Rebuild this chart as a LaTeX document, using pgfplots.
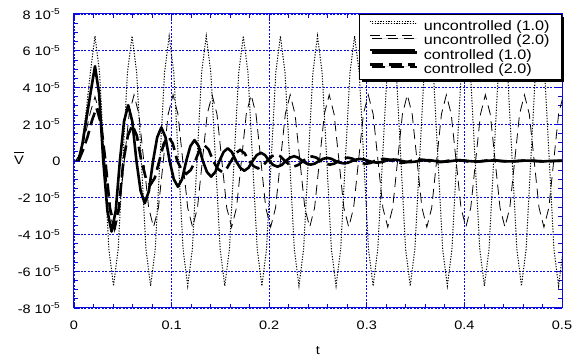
\documentclass[border=0pt]{standalone}
\usepackage{fontspec}
\setmainfont{Liberation Sans}
\usepackage{graphicx}
\usepackage{pgfplots}
\pgfplotsset{compat=1.18}
\usetikzlibrary{shadows}
\definecolor{axblue}{RGB}{10,10,225}
\newcommand{\lgf}{\fontsize{13.7}{14}\selectfont}
\newcommand{\tkf}{\fontsize{12.3}{14}\selectfont}
\newcommand{\sx}[1]{\scalebox{1.18}[1]{#1}}
\newcommand{\ytl}[1]{\sx{#1 10\textsuperscript{-5}}}
\begin{document}
\begin{tikzpicture}
\begin{axis}[
  scale only axis, width=488pt, height=294pt,
  xmin=0, xmax=0.5, ymin=-8e-5, ymax=8e-5,
  xtick={0,0.1,0.2,0.3,0.4,0.5},
  xticklabels={\sx{0},\sx{0.1},\sx{0.2},\sx{0.3},\sx{0.4},\sx{0.5}},
  ytick={-8e-5,-6e-5,-4e-5,-2e-5,0,2e-5,4e-5,6e-5,8e-5},
  yticklabels={{\ytl{-8}},{\ytl{-6}},{\ytl{-4}},{\ytl{-2}},{\sx{0}},{\ytl{2}},{\ytl{4}},{\ytl{6}},{\ytl{8}}},
  scaled ticks=false,
  minor x tick num=4, minor y tick num=3,
  tick align=inside, tick pos=both,
  major tick length=6pt, minor tick length=4pt,
  axis line style={axblue, line width=1pt},
  tick style={axblue, line width=0.8pt},
  grid=major,
  major grid style={axblue, dash pattern=on 2pt off 1.5pt, line width=0.6pt},
  ticklabel style={font=\tkf, text=black},
  xticklabel style={yshift=-9pt},
  yticklabel style={xshift=-10pt},
  xlabel={\sx{t}},
  xlabel style={at={(axis description cs:0.5,-0.146)}, anchor=center, font=\tkf},
  ylabel={$\overline{\mbox{\rule{0pt}{10.5pt}\sx{V}}}$},
  ylabel style={rotate=-90, at={(axis description cs:-0.113,0.51)}, anchor=center, font=\tkf},
  legend cell align=left,
  legend style={at={(1,1)}, anchor=north east, draw=black, line width=0.7pt, fill=white,
    drop shadow={shadow xshift=2.5pt, shadow yshift=-2.5pt, fill=black, opacity=1},
    font=\lgf, row sep=0pt, inner xsep=9pt, inner ysep=3.7pt,
    nodes={inner ysep=0.5pt, inner xsep=3pt, text height=12pt, text depth=1.4pt},
    /tikz/every odd column/.append style={column sep=5pt}},
  legend image code/.code={\draw[#1] (0pt,4pt) -- (45pt,4pt);},
]
% uncontrolled (1.0)
\addplot[black, line width=1pt, dash pattern=on 1.2pt off 1.5pt] coordinates {
(0.0025,0) (0.00725,0.6e-5) (0.012,2.5e-5) (0.01675,4.8e-5)
(0.0215,6.8e-5) (0.02625,4.8e-5) (0.031,0) (0.03575,-4.8e-5) (0.0405,-6.8e-5) (0.04525,-4.8e-5) (0.05,0) (0.05475,4.8e-5)
(0.0595,6.8e-5) (0.06425,4.8e-5) (0.069,0) (0.07375,-4.8e-5) (0.0785,-6.8e-5) (0.08325,-4.8e-5) (0.088,0) (0.09275,4.8e-5)
(0.0975,6.8e-5) (0.10225,4.8e-5) (0.107,0) (0.11175,-4.8e-5) (0.1165,-6.8e-5) (0.12125,-4.8e-5) (0.126,0) (0.13075,4.8e-5)
(0.1355,6.8e-5) (0.14025,4.8e-5) (0.145,0) (0.14975,-4.8e-5) (0.1545,-6.8e-5) (0.15925,-4.8e-5) (0.164,0) (0.16875,4.8e-5)
(0.1735,6.8e-5) (0.17825,4.8e-5) (0.183,0) (0.18775,-4.8e-5) (0.1925,-6.8e-5) (0.19725,-4.8e-5) (0.202,0) (0.20675,4.8e-5)
(0.2115,6.8e-5) (0.21625,4.8e-5) (0.221,0) (0.22575,-4.8e-5) (0.2305,-6.8e-5) (0.23525,-4.8e-5) (0.24,0) (0.24475,4.8e-5)
(0.2495,6.8e-5) (0.25425,4.8e-5) (0.259,0) (0.26375,-4.8e-5) (0.2685,-6.8e-5) (0.27325,-4.8e-5) (0.278,0) (0.28275,4.8e-5)
(0.2875,6.8e-5) (0.29225,4.8e-5) (0.297,0) (0.30175,-4.8e-5) (0.3065,-6.8e-5) (0.31125,-4.8e-5) (0.316,0) (0.32075,4.8e-5)
(0.3255,6.8e-5) (0.33025,4.8e-5) (0.335,0) (0.33975,-4.8e-5) (0.3445,-6.8e-5) (0.34925,-4.8e-5) (0.354,0) (0.35875,4.8e-5)
(0.3635,6.8e-5) (0.36825,4.8e-5) (0.373,0) (0.37775,-4.8e-5) (0.3825,-6.8e-5) (0.38725,-4.8e-5) (0.392,0) (0.39675,4.8e-5)
(0.4015,6.8e-5) (0.40625,4.8e-5) (0.411,0) (0.41575,-4.8e-5) (0.4205,-6.8e-5) (0.42525,-4.8e-5) (0.43,0) (0.43475,4.8e-5)
(0.4395,6.8e-5) (0.44425,4.8e-5) (0.449,0) (0.45375,-4.8e-5) (0.4585,-6.8e-5) (0.46325,-4.8e-5) (0.468,0) (0.47275,4.8e-5)
(0.4775,6.8e-5) (0.48225,4.8e-5) (0.487,0) (0.49175,-4.8e-5) (0.4965,-6.8e-5) (0.50125,-4.8e-5)
};
\addlegendentry{\lgf\sx{uncontrolled (1.0)}}
% uncontrolled (2.0)
\addplot[black, line width=0.8pt, dash pattern=on 10pt off 6pt] coordinates {
(0.0015,0) (0.0065,0.4e-5) (0.0115,1.4e-5) (0.0165,2.6e-5)
(0.0215,3.5e-5) (0.0265,2.55e-5) (0.0315,0) (0.0365,-2.75e-5) (0.0415,-3.9e-5) (0.0465,-2.7e-5) (0.0515,0) (0.0565,2.55e-5)
(0.0615,3.6e-5) (0.0665,2.55e-5) (0.0715,0) (0.0765,-2.55e-5) (0.0815,-3.6e-5) (0.0865,-2.55e-5) (0.0915,0) (0.0965,2.55e-5)
(0.1015,3.6e-5) (0.1065,2.55e-5) (0.1115,0) (0.1165,-2.55e-5) (0.1215,-3.6e-5) (0.1265,-2.55e-5) (0.1315,0) (0.1365,2.55e-5)
(0.1415,3.6e-5) (0.1465,2.55e-5) (0.1515,0) (0.1565,-2.55e-5) (0.1615,-3.6e-5) (0.1665,-2.55e-5) (0.1715,0) (0.1765,2.55e-5)
(0.1815,3.6e-5) (0.1865,2.55e-5) (0.1915,0) (0.1965,-2.55e-5) (0.2015,-3.6e-5) (0.2065,-2.55e-5) (0.2115,0) (0.2165,2.55e-5)
(0.2215,3.6e-5) (0.2265,2.55e-5) (0.2315,0) (0.2365,-2.55e-5) (0.2415,-3.6e-5) (0.2465,-2.55e-5) (0.2515,0) (0.2565,2.55e-5)
(0.2615,3.6e-5) (0.2665,2.55e-5) (0.2715,0) (0.2765,-2.55e-5) (0.2815,-3.6e-5) (0.2865,-2.55e-5) (0.2915,0) (0.2965,2.55e-5)
(0.3015,3.6e-5) (0.3065,2.55e-5) (0.3115,0) (0.3165,-2.55e-5) (0.3215,-3.6e-5) (0.3265,-2.55e-5) (0.3315,0) (0.3365,2.55e-5)
(0.3415,3.6e-5) (0.3465,2.55e-5) (0.3515,0) (0.3565,-2.55e-5) (0.3615,-3.6e-5) (0.3665,-2.55e-5) (0.3715,0) (0.3765,2.55e-5)
(0.3815,3.6e-5) (0.3865,2.55e-5) (0.3915,0) (0.3965,-2.55e-5) (0.4015,-3.6e-5) (0.4065,-2.55e-5) (0.4115,0) (0.4165,2.55e-5)
(0.4215,3.6e-5) (0.4265,2.55e-5) (0.4315,0) (0.4365,-2.55e-5) (0.4415,-3.6e-5) (0.4465,-2.55e-5) (0.4515,0) (0.4565,2.55e-5)
(0.4615,3.6e-5) (0.4665,2.55e-5) (0.4715,0) (0.4765,-2.55e-5) (0.4815,-3.6e-5) (0.4865,-2.55e-5) (0.4915,0) (0.4965,2.55e-5)
(0.5015,3.6e-5)
};
\addlegendentry{\lgf\sx{uncontrolled (2.0)}}
% controlled (1.0)
\addplot[black, line width=2.6pt, line join=round] coordinates {
(0.0045,0) (0.00875,0.96e-5) (0.013,2.4e-5) (0.01725,3.8e-5)
(0.0215,5.16e-5) (0.02575,3.65e-5) (0.03,0) (0.03425,-2.71e-5)
(0.0385,-3.84e-5) (0.04275,-2.71e-5) (0.047,0) (0.05125,2.15e-5)
(0.0555,3.04e-5) (0.05975,2.15e-5) (0.064,0) (0.06825,-1.63e-5)
(0.0725,-2.3e-5) (0.07675,-1.63e-5) (0.081,0) (0.08525,1.29e-5)
(0.0895,1.83e-5) (0.09375,1.29e-5) (0.098,0) (0.10225,-0.99e-5)
(0.1065,-1.4e-5) (0.11075,-0.99e-5) (0.115,0) (0.11925,0.81e-5)
(0.1235,1.14e-5) (0.12775,0.81e-5) (0.132,0) (0.13625,-0.6e-5)
(0.1405,-0.85e-5) (0.14475,-0.6e-5) (0.149,0) (0.15325,0.49e-5)
(0.1575,0.69e-5) (0.16175,0.49e-5) (0.166,0) (0.17025,-0.37e-5)
(0.1745,-0.53e-5) (0.17875,-0.37e-5) (0.183,0) (0.18725,0.32e-5)
(0.1915,0.45e-5) (0.19575,0.32e-5) (0.2,0) (0.20425,-0.22e-5)
(0.2085,-0.31e-5) (0.21275,-0.22e-5) (0.217,0) (0.22125,0.18e-5)
(0.2255,0.26e-5) (0.22975,0.18e-5) (0.234,0) (0.23825,-0.14e-5)
(0.2425,-0.2e-5) (0.24675,-0.14e-5) (0.251,0) (0.25525,0.12e-5)
(0.2595,0.17e-5) (0.26375,0.12e-5) (0.268,0) (0.27225,-0.09e-5)
(0.2765,-0.13e-5) (0.28075,-0.09e-5) (0.285,0) (0.28925,0.08e-5)
(0.2935,0.11e-5) (0.29775,0.08e-5) (0.302,0) (0.30625,-0.06e-5)
(0.3105,-0.09e-5) (0.31475,-0.06e-5) (0.319,0) (0.32325,0.06e-5)
(0.3275,0.08e-5) (0.33175,0.06e-5) (0.336,0) (0.34025,-0.04e-5)
(0.3445,-0.06e-5) (0.34875,-0.04e-5) (0.353,0) (0.35725,0.035e-5)
(0.3615,0.05e-5) (0.36575,0.035e-5) (0.37,0) (0.37425,-0.03e-5)
(0.3785,-0.04e-5) (0.38275,-0.03e-5) (0.387,0) (0.39125,0.03e-5)
(0.3955,0.04e-5) (0.39975,0.03e-5) (0.404,0) (0.40825,-0.02e-5)
(0.4125,-0.03e-5) (0.41675,-0.02e-5) (0.421,0) (0.42525,0.02e-5)
(0.4295,0.03e-5) (0.43375,0.02e-5) (0.438,0) (0.44225,-0.015e-5)
(0.4465,-0.02e-5) (0.45075,-0.015e-5) (0.455,0) (0.45925,0.015e-5)
(0.4635,0.02e-5) (0.46775,0.015e-5) (0.472,0) (0.47625,-0.01e-5)
(0.4805,-0.02e-5) (0.48475,-0.01e-5) (0.489,0) (0.49325,0.01e-5)
(0.4975,0.01e-5) (0.50175,0.007e-5)
};
\addlegendentry{\lgf\sx{controlled (1.0)}}
% controlled (2.0)
\addplot[black, line width=2.6pt, dash pattern=on 13pt off 6pt] coordinates {
(0.0046,0) (0.0092,0.6e-5) (0.0138,1.3e-5) (0.0184,2.2e-5)
(0.023,2.9e-5) (0.0276,2.05e-5) (0.0322,0) (0.0368,-2.55e-5)
(0.0414,-3.6e-5) (0.046,-2.55e-5) (0.0506,0) (0.0552,1.38e-5)
(0.0598,1.95e-5) (0.0644,1.38e-5) (0.069,0) (0.0736,-0.92e-5)
(0.0782,-1.3e-5) (0.0828,-0.92e-5) (0.0874,0) (0.092,0.95e-5)
(0.0966,1.35e-5) (0.1012,0.95e-5) (0.1058,0) (0.1104,-0.49e-5)
(0.115,-0.7e-5) (0.1196,-0.49e-5) (0.1242,0) (0.1288,0.62e-5)
(0.1334,0.87e-5) (0.138,0.62e-5) (0.1426,0) (0.1472,-0.42e-5)
(0.1518,-0.6e-5) (0.1564,-0.42e-5) (0.161,0) (0.1656,0.42e-5)
(0.1702,0.6e-5) (0.1748,0.42e-5) (0.1794,0) (0.184,-0.28e-5)
(0.1886,-0.4e-5) (0.1932,-0.28e-5) (0.1978,0) (0.2024,0.25e-5)
(0.207,0.35e-5) (0.2116,0.25e-5) (0.2162,0) (0.2208,-0.21e-5)
(0.2254,-0.3e-5) (0.23,-0.21e-5) (0.2346,0) (0.2392,0.18e-5)
(0.2438,0.25e-5) (0.2484,0.18e-5) (0.253,0) (0.2576,-0.14e-5)
(0.2622,-0.2e-5) (0.2668,-0.14e-5) (0.2714,0) (0.276,0.13e-5)
(0.2806,0.18e-5) (0.2852,0.13e-5) (0.2898,0) (0.2944,-0.11e-5)
(0.299,-0.15e-5) (0.3036,-0.11e-5) (0.3082,0) (0.3128,0.08e-5)
(0.3174,0.12e-5) (0.322,0.08e-5) (0.3266,0) (0.3312,-0.07e-5)
(0.3358,-0.1e-5) (0.3404,-0.07e-5) (0.345,0) (0.3496,0.06e-5)
(0.3542,0.08e-5) (0.3588,0.06e-5) (0.3634,0) (0.368,-0.05e-5)
(0.3726,-0.07e-5) (0.3772,-0.05e-5) (0.3818,0) (0.3864,0.04e-5)
(0.391,0.06e-5) (0.3956,0.04e-5) (0.4002,0) (0.4048,-0.035e-5)
(0.4094,-0.05e-5) (0.414,-0.035e-5) (0.4186,0) (0.4232,0.03e-5)
(0.4278,0.04e-5) (0.4324,0.03e-5) (0.437,0) (0.4416,-0.02e-5)
(0.4462,-0.03e-5) (0.4508,-0.02e-5) (0.4554,0) (0.46,0.02e-5)
(0.4646,0.03e-5) (0.4692,0.02e-5) (0.4738,0) (0.4784,-0.015e-5)
(0.483,-0.02e-5) (0.4876,-0.015e-5) (0.4922,0) (0.4968,0.015e-5)
(0.5014,0.02e-5)
};
\addlegendentry{\lgf\sx{controlled (2.0)}}
\end{axis}
\pgfresetboundingbox
\path (-74pt,-50pt) rectangle (513pt,308pt);
\end{tikzpicture}
\end{document}
